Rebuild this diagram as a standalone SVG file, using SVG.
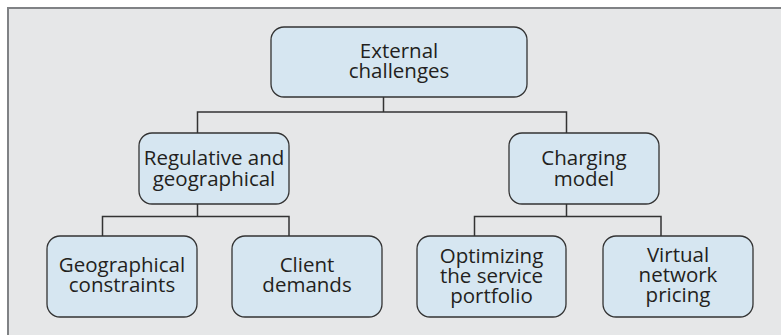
<svg xmlns="http://www.w3.org/2000/svg" width="781" height="335" viewBox="0 0 781 335">
<style>
.frame{fill:#e6e7e8;stroke:#808285;stroke-width:2}
.node rect{fill:#d6e6f1;stroke:#333;stroke-width:1.3}
.node text{font-family:"Open Sans","Noto Sans",sans-serif;font-size:20.5px;fill:#231f20;text-anchor:middle}
.conn{fill:none;stroke:#333;stroke-width:1.5}
</style>
<rect class="frame" x="8" y="8" width="800" height="400"/>
<g id="connectors" class="conn">
<path d="M383.5 97V112H197.5V133M383.5 112H566.5V133"/>
<path d="M197.5 204V216.5H102.5V236M197.5 216.5H289V236"/>
<path d="M566.5 204V216.5H474.5V236M566.5 216.5H661V236"/>
</g>
<g id="external" class="node">
<rect x="271" y="27" width="256" height="70" rx="13"/>
<text x="399" y="58.3">External</text>
<text x="399" y="78.3">challenges</text>
</g>
<g id="regulative" class="node">
<rect x="139" y="133" width="150" height="71" rx="13"/>
<text x="214" y="165">Regulative and</text>
<text x="214" y="185.5">geographical</text>
</g>
<g id="charging" class="node">
<rect x="509" y="133" width="150" height="71" rx="13"/>
<text x="584" y="165">Charging</text>
<text x="584" y="185.5">model</text>
</g>
<g id="geographical" class="node">
<rect x="47" y="236" width="150" height="81" rx="13"/>
<text x="122" y="271.7">Geographical</text>
<text x="122" y="292.3">constraints</text>
</g>
<g id="client" class="node">
<rect x="232" y="236" width="150" height="81" rx="13"/>
<text x="307" y="271.7">Client</text>
<text x="307" y="292.3">demands</text>
</g>
<g id="optimizing" class="node">
<rect x="417" y="236" width="149" height="81" rx="13"/>
<text x="491.5" y="262.7">Optimizing</text>
<text x="491.5" y="283">the service</text>
<text x="491.5" y="303">portfolio</text>
</g>
<g id="virtual" class="node">
<rect x="603" y="236" width="150" height="81" rx="13"/>
<text x="678" y="262">Virtual</text>
<text x="678" y="282">network</text>
<text x="678" y="302">pricing</text>
</g>
</svg>
